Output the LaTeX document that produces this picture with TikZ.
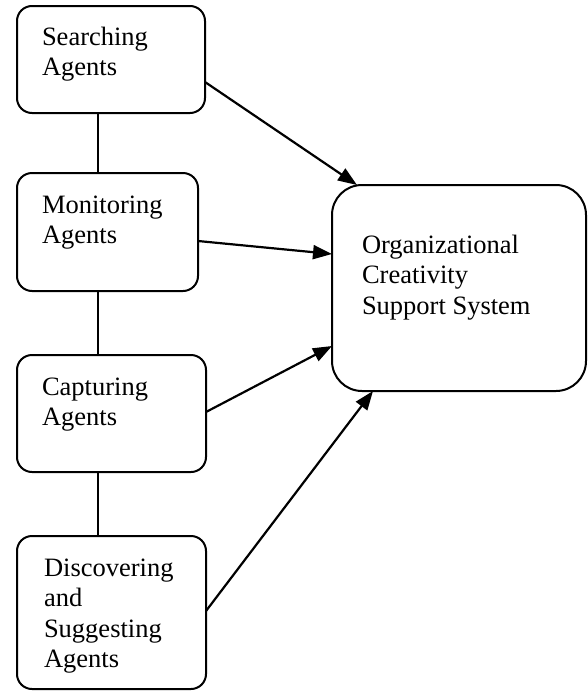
\documentclass[tikz,border=0pt]{standalone}
\usepackage{fontspec}
\setmainfont{Liberation Serif}
\usetikzlibrary{arrows.meta}
\tikzset{
  agentbox/.style={draw, line width=2pt, rounded corners=15pt, inner sep=0pt, outer sep=0pt},
  bigbox/.style={draw, line width=2pt, rounded corners=30pt, inner sep=0pt, outer sep=0pt},
  label/.style={anchor=base west, inner sep=0pt, outer sep=0pt, font=\fontsize{26.5}{30.5}\selectfont},
  link/.style={line width=1.6pt},
  flow/.style={line width=2.2pt, -{Triangle[length=19pt,width=14pt]}}
}
\newcommand{\lns}[1]{\begin{tabular}[t]{@{}l@{}}#1\end{tabular}}
\begin{document}
\begin{tikzpicture}[x=1pt,y=-1pt]
\useasboundingbox (0,0) rectangle (588,691);
\node[agentbox, minimum width=188pt, minimum height=107pt] (S) at (111,59.5) {};
\node[agentbox, minimum width=181pt, minimum height=118pt] (M) at (107.5,232) {};
\node[agentbox, minimum width=189pt, minimum height=117pt] (C) at (111.5,413.5) {};
\node[agentbox, minimum width=189pt, minimum height=153pt] (D) at (111.5,612.5) {};
\node[bigbox, minimum width=254pt, minimum height=206pt] (O) at (459,288) {};

\node[label] (tS) at (42,45) {\lns{Searching\\Agents}};
\node[label] (tM) at (42,213) {\lns{Monitoring\\Agents}};
\node[label] (tC) at (42,395) {\lns{Capturing\\Agents}};
\node[label] (tD) at (44,576) {\lns{Discovering\\and\\Suggesting\\Agents}};
\node[label] (tO) at (362,253) {\lns{Organizational\\Creativity\\Support System}};

\coordinate (vx) at (98,0);
\draw[link] (S.south -| vx) -- (M.north -| vx);
\draw[link] (M.south -| vx) -- (C.north -| vx);
\draw[link] (C.south -| vx) -- (D.north -| vx);

\draw[flow] ([yshift=-22.5pt]S.east) -- ([xshift=25pt]O.north west);
\draw[flow] ([yshift=-9pt]M.east) -- ([yshift=34pt]O.west);
\draw[flow] ([yshift=1.5pt]C.east) -- ([yshift=-58pt]O.west);
\draw[flow] ([yshift=1.5pt]D.east) -- ([xshift=41pt]O.south west);
\end{tikzpicture}
\end{document}
